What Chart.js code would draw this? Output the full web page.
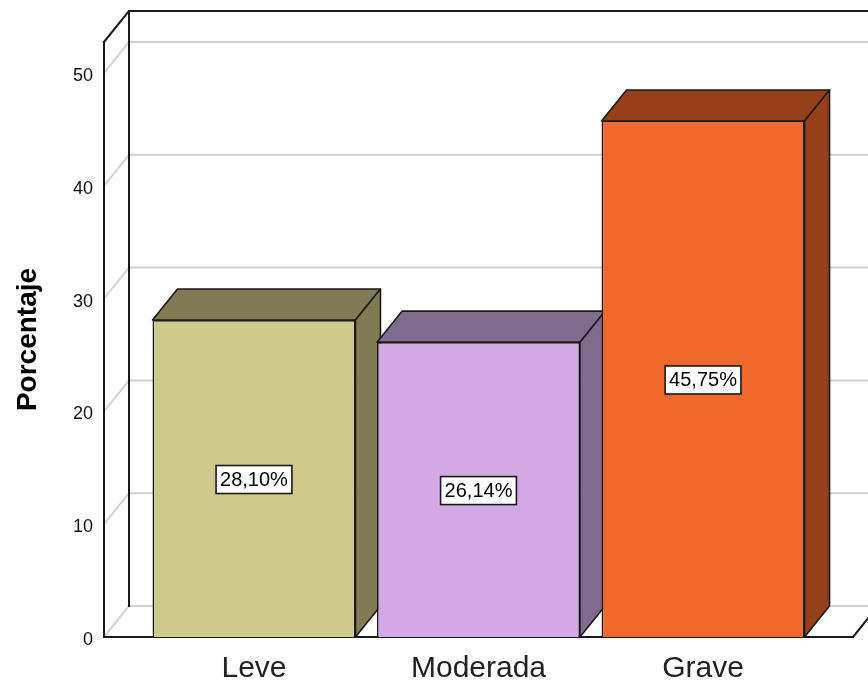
<!DOCTYPE html>
<html>
<head>
<meta charset="utf-8">
<script src="https://cdn.jsdelivr.net/npm/chart.js@4.4.1/dist/chart.umd.min.js"></script>
<style>
  html, body { margin: 0; padding: 0; background: #fff; }
  canvas { display: block; }
</style>
</head>
<body>
<canvas id="chart" width="868" height="684"></canvas>
<script>
// Data
const categories = ['Leve', 'Moderada', 'Grave'];
const values = [28.10, 26.14, 45.75];
const yTicks = [0, 10, 20, 30, 40, 50];

const frontColors = ['#CFC98E', '#D2A9E4', '#F2682B'];
const shadeColors = ['#807B55', '#7F6B8E', '#963F1B'];

// depth of the 3D effect
const DX = 25, DY = 31;
const FONT = "Arial, 'Liberation Sans', sans-serif";

const fmt = v => v.toFixed(2).replace('.', ',') + '%';

const line = (ctx, x1, y1, x2, y2) => {
    ctx.beginPath();
    ctx.moveTo(x1, y1);
    ctx.lineTo(x2, y2);
    ctx.stroke();
};

const poly = (ctx, pts, fill) => {
    ctx.beginPath();
    ctx.moveTo(pts[0][0], pts[0][1]);
    pts.slice(1).forEach(p => ctx.lineTo(p[0], p[1]));
    ctx.closePath();
    ctx.fillStyle = fill;
    ctx.fill();
    ctx.stroke();
};

const cube3d = {
    id: 'cube3d',
    beforeDatasetsDraw(chart) {
        const { ctx, chartArea: a, scales: { y } } = chart;
        ctx.save();
        ctx.lineCap = 'square';

        // back wall + left wall grid lines
        ctx.strokeStyle = '#d2d2d2';
        ctx.lineWidth = 2;
        yTicks.forEach(t => {
            const py = y.getPixelForValue(t);
            line(ctx, a.left, py, a.left + DX, py - DY);
            line(ctx, a.left + DX, py - DY, a.right + DX, py - DY);
        });

        // frame
        ctx.strokeStyle = '#1a1a1a';
        line(ctx, a.left, a.top, a.left, a.bottom);
        line(ctx, a.left + DX, a.top - DY, a.left + DX, a.bottom - DY);
        line(ctx, a.left, a.top, a.left + DX, a.top - DY);
        line(ctx, a.left + DX, a.top - DY, a.right + DX, a.top - DY);
        line(ctx, a.left, a.bottom, a.right, a.bottom);
        line(ctx, a.right, a.bottom, a.right + DX, a.bottom - DY);

        // top and side faces of the bars
        ctx.lineWidth = 1.6;
        ctx.lineJoin = 'round';
        const meta = chart.getDatasetMeta(0);
        meta.data.forEach((bar, i) => {
            const { x, y: top, base, width } = bar.getProps(['x', 'y', 'base', 'width'], true);
            const l = x - width / 2, r = x + width / 2;
            poly(ctx, [[l, top], [l + DX, top - DY], [r + DX, top - DY], [r, top]], shadeColors[i]);
            poly(ctx, [[r, top], [r + DX, top - DY], [r + DX, base - DY], [r, base]], shadeColors[i]);
        });
        ctx.restore();
    },
    afterDatasetsDraw(chart) {
        const { ctx } = chart;
        const meta = chart.getDatasetMeta(0);
        ctx.save();
        ctx.font = '20px ' + FONT;
        ctx.textAlign = 'center';
        ctx.textBaseline = 'middle';
        meta.data.forEach((bar, i) => {
            const { x, y: top, base } = bar.getProps(['x', 'y', 'base'], true);
            const cy = (top + base) / 2 + 1;
            const txt = fmt(values[i]);
            const w = ctx.measureText(txt).width + 8, h = 28;
            ctx.fillStyle = '#fff';
            ctx.fillRect(x - w / 2, cy - h / 2, w, h);
            ctx.strokeStyle = '#1a1a1a';
            ctx.lineWidth = 1.6;
            ctx.strokeRect(x - w / 2, cy - h / 2, w, h);
            ctx.fillStyle = '#000';
            ctx.fillText(txt, x, cy + 1);
        });
        ctx.restore();
    }
};

new Chart(document.getElementById('chart'), {
    type: 'bar',
    data: {
        datasets: [{
            data: values.map((v, i) => ({ x: i + 1, y: v })),
            backgroundColor: frontColors,
            borderColor: '#1a1a1a',
            borderWidth: 1.6,
            barPercentage: 0.904,
            categoryPercentage: 1
        }]
    },
    options: {
        responsive: false,
        animation: false,
        devicePixelRatio: 1,
        layout: { padding: { top: 42, right: 15, left: 0, bottom: 0 } },
        plugins: {
            legend: { display: false },
            tooltip: { enabled: false }
        },
        scales: {
            x: {
                type: 'linear',
                min: 0.332,
                max: 3.668,
                offset: false,
                grid: { display: false, drawTicks: false },
                border: { display: false },
                afterBuildTicks: s => { s.ticks = categories.map((c, i) => ({ value: i + 1 })); },
                afterFit: s => { s.height = 47; },
                ticks: {
                    padding: 14,
                    autoSkip: false,
                    maxRotation: 0,
                    color: '#222',
                    font: { family: FONT, size: 30 },
                    callback: v => categories[v - 1]
                }
            },
            y: {
                min: 0,
                max: 52.75,
                grid: { display: false, drawTicks: false },
                border: { display: false },
                afterBuildTicks: s => { s.ticks = yTicks.map(v => ({ value: v })); },
                afterFit: s => { s.width = 104; },
                ticks: {
                    padding: 11,
                    labelOffset: 3,
                    color: '#111',
                    font: { family: FONT, size: 18 },
                    callback: v => String(v)
                },
                title: {
                    display: true,
                    text: 'Porcentaje',
                    color: '#000',
                    font: { family: FONT, size: 28, weight: 'bold' },
                    padding: { top: 11, bottom: 0 }
                }
            }
        }
    },
    plugins: [cube3d]
});
</script>
</body>
</html>
